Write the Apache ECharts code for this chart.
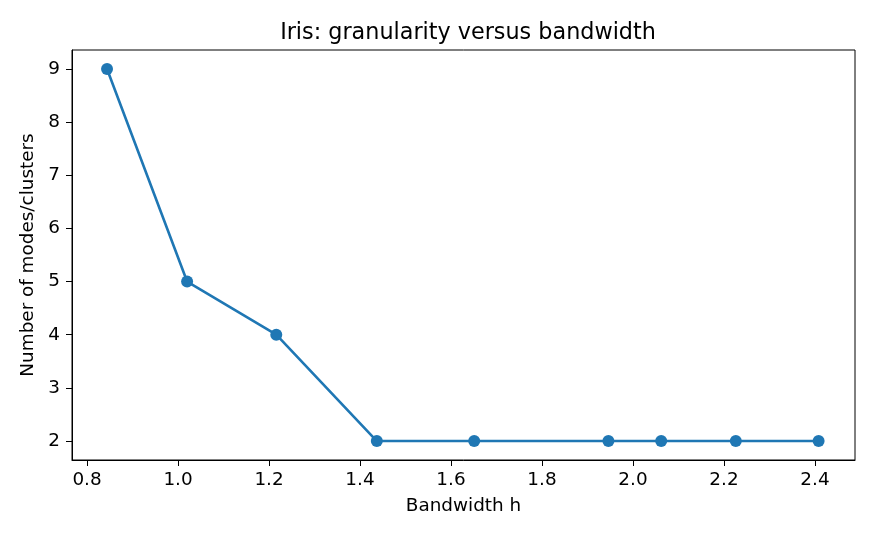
<!DOCTYPE html>
<html>
<head>
<meta charset="utf-8">
<script src="https://cdn.jsdelivr.net/npm/echarts@6/dist/echarts.min.js"></script>
<style>
  html, body { margin: 0; padding: 0; background: #fff; }
  #main { width: 875px; height: 538px; }
</style>
</head>
<body>
<div id="main"></div>
<script>
// bandwidth values and number of modes found
const bandwidths = [0.844, 1.020, 1.216, 1.437, 1.651, 1.946, 2.062, 2.226, 2.408];
const modes = [9, 5, 4, 2, 2, 2, 2, 2, 2];
const xTicks = [0.8, 1.0, 1.2, 1.4, 1.6, 1.8, 2.0, 2.2, 2.4];
const yTicks = [2, 3, 4, 5, 6, 7, 8, 9];

const chart = echarts.init(document.getElementById('main'));
const font = 'DejaVu Sans';

chart.setOption({
  animation: false,
  title: {
    text: 'Iris: granularity versus bandwidth',
    left: 463, top: 17, textAlign: 'center',
    textStyle: { fontFamily: font, fontSize: 22.3, fontWeight: 'normal', color: '#000' }
  },
  grid: {
    left: 72, right: 20, top: 50, bottom: 78,
    show: true, borderColor: '#000', borderWidth: 1
  },
  xAxis: {
    type: 'value',
    min: 0.767, max: 2.488,
    name: 'Bandwidth h', nameLocation: 'middle', nameGap: 37,
    nameTextStyle: { fontFamily: font, fontSize: 18.4, color: '#000' },
    splitLine: { show: false },
    axisLine: { show: true, onZero: false, lineStyle: { color: '#000', width: 1 } },
    axisTick: { show: true, length: 6, customValues: xTicks, lineStyle: { color: '#000' } },
    axisLabel: {
      customValues: xTicks, margin: 11,
      fontFamily: font, fontSize: 18.4, color: '#000',
      formatter: v => v.toFixed(1)
    }
  },
  yAxis: {
    type: 'value',
    min: 1.643, max: 9.357,
    name: 'Number of modes/clusters', nameLocation: 'middle', nameGap: 33,
    nameTextStyle: { fontFamily: font, fontSize: 18.4, color: '#000' },
    splitLine: { show: false },
    axisLine: { show: true, onZero: false, lineStyle: { color: '#000', width: 1 } },
    axisTick: { show: true, length: 6, customValues: yTicks, lineStyle: { color: '#000' } },
    axisLabel: {
      customValues: yTicks, margin: 12,
      fontFamily: font, fontSize: 18.4, color: '#000',
      formatter: v => String(v)
    }
  },
  series: [{
    type: 'line',
    data: bandwidths.map((b, i) => [b, modes[i]]),
    symbol: 'circle', symbolSize: 12,
    lineStyle: { color: '#1f77b4', width: 2.6 },
    itemStyle: { color: '#1f77b4' }
  }]
});
</script>
</body>
</html>
